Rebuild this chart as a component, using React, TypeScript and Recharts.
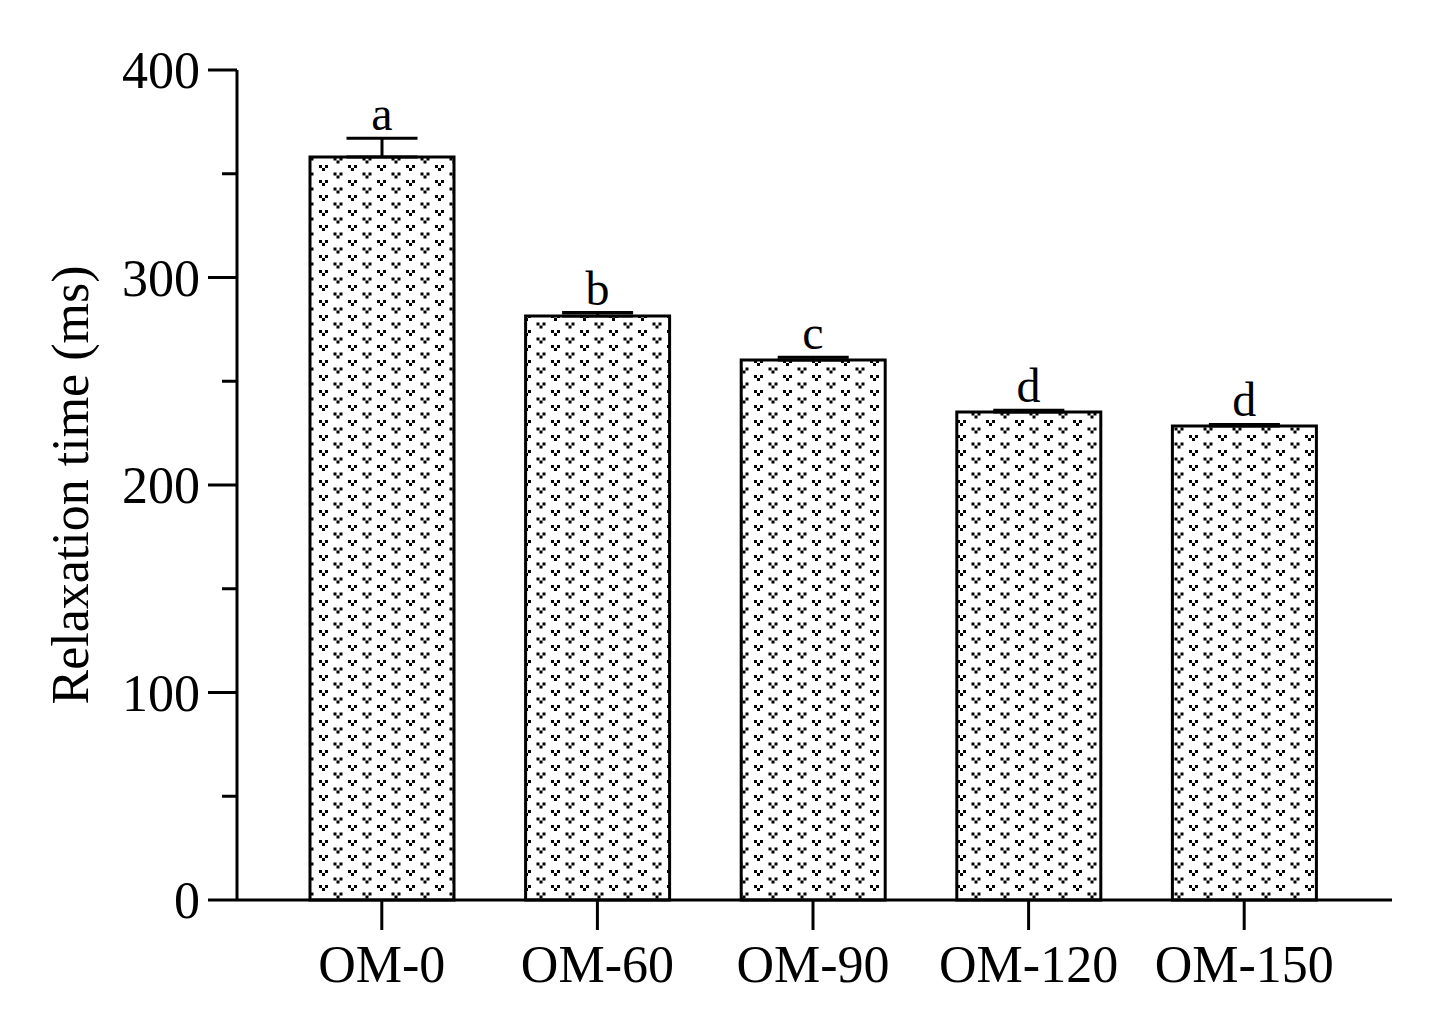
import React from 'react';
import { ComposedChart, Bar, Line, XAxis, YAxis, ErrorBar, LabelList } from 'recharts';

const categories = ['OM-0', 'OM-60', 'OM-90', 'OM-120', 'OM-150'];
const values = [358.1, 281.4, 260.2, 235.2, 228.4];
const errors = [9.0, 1.7, 1.4, 0.8, 0.8];
const letters = ['a', 'b', 'c', 'd', 'd'];
const yTicks = [0, 50, 100, 150, 200, 250, 300, 350, 400];
const yLabels = [0, 100, 200, 300, 400];

const data = categories.map((c, i) => ({
  name: c,
  value: values[i],
  err: [0, errors[i]],
  top: values[i] + errors[i],
  letter: letters[i],
}));

const FONT = '"Liberation Serif", "Times New Roman", serif';
const FS = 52;
const TICK = 29;
const MARGIN = 8;

const YTick = (props: any) => {
  const { x, y, payload } = props;
  const v = payload.value;
  const major = yLabels.includes(v);
  const axisX = x + MARGIN + TICK;
  return (
    <g>
      <line x1={major ? axisX - TICK : axisX - 15} x2={axisX} y1={y} y2={y} stroke="#000" strokeWidth={3} />
      {major && (
        <text x={x} y={y} dy="0.35em" textAnchor="end" fontFamily={FONT} fontSize={FS} fill="#000">
          {v}
        </text>
      )}
    </g>
  );
};

const YLabel = (props: any) => {
  const vb = props.viewBox;
  const cx = 70;
  const cy = vb.y + vb.height / 2;
  return (
    <text
      x={cx}
      y={cy}
      transform={`rotate(-90, ${cx}, ${cy})`}
      textAnchor="middle"
      dominantBaseline="central"
      fontFamily={FONT}
      fontSize={FS}
      fill="#000"
    >
      Relaxation time (ms)
    </text>
  );
};

export default function App() {
  return (
    <div style={{ position: 'absolute', left: 0, top: 0, background: '#fff' }}>
      <ComposedChart
        width={1436}
        height={1036}
        data={data}
        margin={{ top: 70, right: 44, left: 0, bottom: 0 }}
      >
        <defs>
          <pattern id="vdots" patternUnits="userSpaceOnUse" width={29} height={15}>
            <rect x={0} y={0} width={29} height={15} fill="#fff" />
            <rect x={0} y={0} width={3} height={3} fill="#000" />
            <rect x={6} y={0} width={3} height={3} fill="#000" />
            <rect x={3} y={3} width={3} height={3} fill="#000" />
            <rect x={14.5} y={7.5} width={3} height={3} fill="#000" />
            <rect x={20.5} y={7.5} width={3} height={3} fill="#000" />
            <rect x={17.5} y={10.5} width={3} height={3} fill="#000" />
          </pattern>
        </defs>
        <XAxis
          dataKey="name"
          type="category"
          height={136}
          padding={{ left: 37, right: 40 }}
          axisLine={{ stroke: '#000', strokeWidth: 3 }}
          tickLine={{ stroke: '#000', strokeWidth: 3 }}
          tickSize={30}
          tickMargin={15}
          tick={{ fontFamily: FONT, fontSize: FS, fill: '#000' }}
        />
        <YAxis
          type="number"
          width={237}
          domain={[0, 400]}
          ticks={yTicks}
          interval={0}
          axisLine={{ stroke: '#000', strokeWidth: 3 }}
          tickLine={false}
          tickSize={TICK}
          tickMargin={MARGIN}
          tick={<YTick />}
          label={<YLabel />}
        />
        <Bar
          dataKey="value"
          barSize={144}
          fill="url(#vdots)"
          stroke="#000"
          strokeWidth={3}
          isAnimationActive={false}
        >
          <ErrorBar dataKey="err" width={35.5} stroke="#000" strokeWidth={3} direction="y" />
        </Bar>
        <Line
          dataKey="top"
          stroke="none"
          dot={false}
          activeDot={false}
          isAnimationActive={false}
        >
          <LabelList
            dataKey="letter"
            position="top"
            offset={8}
            fontFamily={FONT}
            fontSize={48}
            fill="#000"
          />
        </Line>
      </ComposedChart>
    </div>
  );
}
